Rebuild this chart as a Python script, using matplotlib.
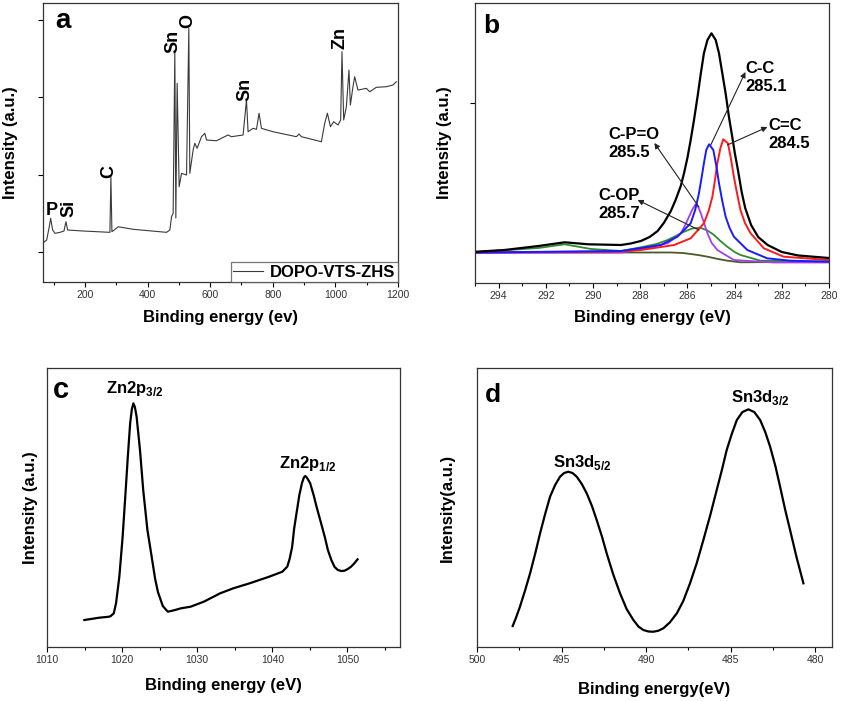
import matplotlib
matplotlib.use('Agg')
import matplotlib.pyplot as plt
from matplotlib.ticker import MultipleLocator

plt.rcParams['font.family'] = ['Liberation Sans', 'DejaVu Sans']
plt.rcParams['mathtext.fontset'] = 'custom'
plt.rcParams['mathtext.rm'] = 'Liberation Sans'
plt.rcParams['mathtext.bf'] = 'Liberation Sans:bold'

# ---- panel a: survey spectrum ----
a_energy = [66.9, 77.8, 86.1, 90.5, 96.9, 104.3, 120.2, 133.0, 139.4, 144.8, 194.6,
            279.8, 283.0, 286.2, 293.5, 306.3, 354.1, 460.7, 471.3, 476.7, 481.8,
            487.2, 490.4, 494.6, 501.0, 508.6, 524.6, 531.9, 535.1, 545.6, 551.1,
            558.4, 572.4, 583.0, 588.4, 620.3, 657.3, 668.2, 705.2, 716.1, 721.2,
            737.1, 748.0, 756.3, 763.9, 801.0, 875.6, 883.9, 891.6, 955.4, 966.0,
            974.6, 984.2, 994.7, 1008.4, 1017.0, 1021.2, 1026.6, 1035.2, 1043.5,
            1048.0, 1056.3, 1061.7, 1072.2, 1099.0, 1109.6, 1130.9, 1162.9, 1183.9,
            1194.8]
a_counts = [0.12, 0.155, 0.326, 0.435, 0.284, 0.241, 0.254, 0.271, 0.391, 0.284, 0.271,
            0.254, 0.972, 0.262, 0.284, 0.326, 0.293, 0.254, 0.284, 0.455, 0.499,
            2.594, 0.44, 2.177, 0.843, 1.015, 0.994, 2.886, 1.015, 1.316, 1.403,
            1.338, 1.488, 1.532, 1.445, 1.436, 1.51, 1.488, 1.51, 1.961, 1.552,
            1.596, 1.583, 1.79, 1.596, 1.552, 1.488, 1.523, 1.488, 1.423, 1.661,
            1.79, 1.617, 1.681, 1.639, 1.703, 2.585, 1.703, 1.875, 2.348,
            1.897, 2.133, 2.262, 2.09, 2.112, 2.068, 2.125, 2.133, 2.155,
            2.197]
a_peak_labels = ['P', 'Si', 'C', 'Sn', 'O', 'Sn', 'Zn']
a_peak_x = [94.7, 150.5, 276.6, 480.9, 528.0, 710.6, 1014.8]
a_peak_y = [0.53, 0.561, 1.045, 2.723, 2.983, 2.103, 2.768]

# ---- panel b: C1s fit ----
b_total_e = [294.93, 293.75, 292.31, 291.2, 290.2, 288.81, 288.4, 287.97, 287.6, 287.26,
             287.0, 286.7, 286.5, 286.28, 286.14, 286.0, 285.86, 285.72, 285.57, 285.43,
             285.3, 285.15, 284.98, 284.8, 284.66, 284.52, 284.38, 284.24, 284.1, 283.99,
             283.85, 283.7, 283.55, 283.3, 283.0, 282.6, 282.0, 281.3, 280.0]
b_total = [31.3, 33, 37, 40.7, 38.7, 38, 39.5, 42, 46, 52, 60, 72, 83, 97, 110, 125,
           143, 163, 186.3, 209.7, 229.7, 243, 249.7, 243, 229.7, 209.7, 189.7, 166.3,
           146.3, 130, 112, 91, 75, 58, 46, 38, 31, 27.5, 25]
b_cc_e = [294.93, 288.8, 287.12, 286.42, 285.86, 285.67, 285.51, 285.4, 285.3, 285.2,
          285.08, 284.9, 284.78, 284.66, 284.53, 284.38, 284.21, 284.03, 283.46, 282.62,
          281.64, 280.02]
b_cc = [30.5, 32, 38, 46.3, 59.7, 73, 89.7, 105, 119.7, 133, 138.7, 133, 118, 99.7, 83,
        66.3, 55, 46.3, 33, 24.7, 22.3, 21.3]
b_cdc_e = [294.93, 288.8, 287.97, 286.56, 285.86, 285.3, 285.1, 284.94, 284.83, 284.73,
           284.6, 284.48, 284.28, 284.16, 284.03, 283.89, 283.75, 283.56, 283.32, 282.76,
           281.92, 280.02]
b_cdc = [30.5, 31.5, 33, 38, 44.7, 59.7, 72, 86.3, 103, 119.7, 135, 143.7, 139.7, 125,
         106.3, 89, 73, 60, 49.7, 34.7, 26.3, 23]
b_cpo_e = [294.93, 288.81, 287.97, 286.84, 286.28, 286.09, 285.93, 285.78, 285.65,
           285.54, 285.43, 285.31, 285.15, 284.97, 284.73, 284.03, 282.34, 280.02]
b_cpo = [30, 30.5, 33.7, 39.7, 49.7, 58, 66.3, 74, 78.7, 76, 69.7, 61, 49.7, 40, 33, 23,
         20.5, 20.5]
b_cop_e = [294.93, 292.31, 291.2, 290.08, 288.81, 287.97, 287.3, 286.84, 286.5, 286.14,
           285.8, 285.46, 285.15, 284.87, 284.6, 284.31, 284.0, 283.75, 282.9, 280.02]
b_cop = [31, 35, 38.7, 34, 32, 35.7, 39, 43, 47, 51.3, 54.5, 55.3, 52.5, 48, 42, 36.3,
         31, 28, 22.3, 21.3]
b_bg_e = [294.93, 288.81, 286.7, 286.2, 285.86, 285.5, 285.15, 284.7, 284.31, 283.75,
          280.0]
b_bg = [30.7, 30.5, 30.5, 30, 29, 27.8, 26.3, 24, 22.3, 20.7, 21.3]
b_names = ['C-C\n285.1', 'C=C\n284.5', 'C-P=O\n285.5', 'C-OP\n285.7']
b_text_xy = [(283.54, 206), (282.57, 149), (289.36, 139.5), (289.78, 78)]
b_arrow_tail = [(285.01, 138), (284.31, 138), (285.51, 76), (285.51, 53)]
b_arrow_head = [(283.54, 211), (282.61, 156), (287.40, 140), (288.11, 83)]

# ---- panel c: Zn2p ----
c_energy = [1014.97, 1016.93, 1018.24, 1018.46, 1018.89, 1019.19, 1019.63, 1020.07,
            1020.42, 1020.76, 1021.07, 1021.3, 1021.5, 1021.7, 1021.93, 1022.38, 1022.81,
            1023.37, 1023.9, 1024.4, 1024.77, 1025.42, 1026.08, 1026.95, 1027.82,
            1029.12, 1030.87, 1033.05, 1034.8, 1036.97, 1039.58, 1041.33, 1041.99,
            1042.3, 1042.64, 1042.9, 1043.29, 1043.6, 1043.95, 1044.2, 1044.38, 1044.6,
            1045.03, 1045.5, 1045.9, 1046.45, 1046.99, 1047.4, 1047.86, 1048.3, 1048.73,
            1049.2, 1049.61, 1050.05, 1050.48, 1050.9, 1051.35]
c_counts = [27, 29.3, 30.3, 30.8, 33.7, 43.7, 70.3, 110.3, 150.3, 190.3, 223.7, 238,
            243.7, 240, 230.3, 197, 157, 117, 92, 68, 55, 41, 35.3, 36.8, 38.7, 40.3,
            45.3, 53.7, 58.7, 63.7, 70.3, 75.3, 80.3, 88, 100, 118, 137, 152, 164, 169.5,
            171, 169.5, 164, 152, 140, 125, 110, 97, 87, 80, 77, 76, 76.3, 78, 80.3, 83.5,
            87.7]

# ---- panel d: Sn3d ----
d_energy = [497.89, 497.7, 497.46, 497.15, 496.86, 496.55, 496.27, 495.97, 495.68, 495.38,
            495.09, 494.85, 494.6, 494.35, 494.1, 493.8, 493.51, 493.2, 492.92, 492.6,
            492.33, 491.95, 491.54, 491.15, 490.75, 490.45, 490.16, 489.85, 489.57,
            489.27, 488.98, 488.6, 488.18, 487.8, 487.4, 487.0, 486.61, 486.2, 485.82,
            485.5, 485.23, 484.93, 484.63, 484.3, 483.95, 483.6, 483.25, 482.95, 482.66,
            482.35, 482.07, 481.78, 481.48, 481.1, 480.69]
d_counts = [21, 29, 40.3, 57, 73.7, 94, 113.7, 133, 150.3, 162, 170.3, 174, 175.3, 174,
            170.3, 163, 153.7, 141, 127, 110, 93.7, 73, 53.7, 38, 27, 20.5, 17, 15.5,
            15.3, 16.3, 18.7, 24.5, 33.7, 46, 63.7, 84, 107, 132, 157, 178, 197, 213,
            227, 235, 237.7, 235, 227, 215, 200.3, 181, 160.3, 138, 117, 90, 63.7]

fig = plt.figure(figsize=(8.41, 7.01), dpi=100)
ax_a = fig.add_axes([0.0511, 0.5977, 0.4221, 0.398])
ax_b = fig.add_axes([0.5648, 0.5963, 0.4209, 0.3994])
ax_c = fig.add_axes([0.0559, 0.077, 0.4197, 0.398])
ax_d = fig.add_axes([0.5672, 0.077, 0.4221, 0.398])

lab = dict(fontsize=12, fontweight='bold')

def style(ax, major, minor):
    ax.xaxis.set_major_locator(MultipleLocator(major))
    ax.xaxis.set_minor_locator(MultipleLocator(minor))
    ax.tick_params(axis='both', which='both', direction='out', labelsize=7.5,
                   labelcolor='#333333', width=0.8)
    ax.tick_params(axis='both', which='major', length=3.5)
    ax.tick_params(axis='both', which='minor', length=2.5)
    ax.tick_params(axis='x', pad=2)
    for s in ax.spines.values():
        s.set_linewidth(0.9)
        s.set_color('#333333')

# a
ax_a.plot(a_energy, a_counts, color='#3a3a3a', lw=0.8, label='DOPO-VTS-ZHS')
ax_a.set_xlim(66, 1200)
ax_a.set_ylim(-0.387, 3.213)
style(ax_a, 200, 100)
ax_a.set_yticks([0, 1, 2, 3])
ax_a.set_yticklabels([])
for t, x, y in zip(a_peak_labels, a_peak_x, a_peak_y):
    rot = 0 if t == 'P' else 90
    ax_a.text(x, y, t, rotation=rot, ha='center', va='center', fontsize=13,
              fontweight='bold')
ax_a.text(0.034, 0.91, 'a', transform=ax_a.transAxes, fontsize=20, fontweight='bold')
leg = ax_a.legend(loc='lower right', borderaxespad=0, fancybox=False,
                  handlelength=1.8, prop={'weight': 'bold', 'size': 12},
                  borderpad=0.15, handletextpad=0.4)
leg.get_frame().set_edgecolor('#555555')
leg.get_frame().set_linewidth(0.9)
ax_a.set_xlabel('Binding energy (ev)', **lab)
ax_a.set_ylabel('Intensity (a.u.)', **lab)
ax_a.xaxis.set_label_coords(0.5, -0.1)
ax_a.yaxis.set_label_coords(-0.07, 0.5)

# b
ax_b.plot(b_bg_e, b_bg, color='#4a5a2a', lw=1.3)
ax_b.plot(b_cop_e, b_cop, color='#2e8b2e', lw=1.3)
ax_b.plot(b_cpo_e, b_cpo, color='#a040f0', lw=1.3)
ax_b.plot(b_cdc_e, b_cdc, color='#ff1a1a', lw=1.4)
ax_b.plot(b_cc_e, b_cc, color='#1a1aff', lw=1.4)
ax_b.plot(b_total_e, b_total, color='black', lw=1.6)
ax_b.set_xlim(295, 280)
ax_b.set_ylim(0, 280)
style(ax_b, 2, 1)
ax_b.set_yticks([180])
ax_b.set_yticklabels([])
for name, txy, tail, head in zip(b_names, b_text_xy, b_arrow_tail, b_arrow_head):
    ax_b.text(txy[0], txy[1], name, ha='left', va='center', fontsize=12,
              fontweight='bold', linespacing=1.25)
    ax_b.annotate('', xy=head, xytext=tail,
                  arrowprops=dict(arrowstyle='-|>', color='#222222', lw=0.8,
                                  mutation_scale=8, shrinkA=0, shrinkB=0))
ax_b.text(0.023, 0.893, 'b', transform=ax_b.transAxes, fontsize=19, fontweight='bold')
ax_b.set_xlabel('Binding energy (eV)', **lab)
ax_b.set_ylabel('Intensity (a.u.)', **lab)
ax_b.xaxis.set_label_coords(0.5, -0.096)
ax_b.yaxis.set_label_coords(-0.065, 0.5)

# c
ax_c.plot(c_energy, c_counts, color='black', lw=1.6)
ax_c.set_xlim(1010, 1057)
ax_c.set_ylim(0, 279)
style(ax_c, 10, 5)
ax_c.set_yticks([])
ax_c.text(1017.8, 254, r'Zn2p$_{\mathbf{3/2}}$', ha='left', va='baseline', fontsize=12,
          fontweight='bold')
ax_c.text(1040.85, 179, r'Zn2p$_{\mathbf{1/2}}$', ha='left', va='baseline', fontsize=12,
          fontweight='bold')
ax_c.text(0.017, 0.892, 'c', transform=ax_c.transAxes, fontsize=21, fontweight='bold')
ax_c.set_xlabel('Binding energy (eV)', **lab)
ax_c.set_ylabel('Intensity (a.u.)', **lab)
ax_c.xaxis.set_label_coords(0.5, -0.111)
ax_c.yaxis.set_label_coords(-0.0255, 0.5)

# d
ax_d.plot(d_energy, d_counts, color='black', lw=1.6)
ax_d.set_xlim(500, 479)
ax_d.set_ylim(0, 279)
style(ax_d, 5, 2.5)
ax_d.set_yticks([])
ax_d.text(495.52, 180.3, r'Sn3d$_{\mathbf{5/2}}$', ha='left', va='baseline', fontsize=12,
          fontweight='bold')
ax_d.text(484.99, 245.3, r'Sn3d$_{\mathbf{3/2}}$', ha='left', va='baseline', fontsize=12,
          fontweight='bold')
ax_d.text(0.023, 0.878, 'd', transform=ax_d.transAxes, fontsize=19, fontweight='bold')
ax_d.set_xlabel('Binding energy(eV)', **lab)
ax_d.set_ylabel('Intensity(a.u.)', **lab)
ax_d.xaxis.set_label_coords(0.5, -0.125)
ax_d.yaxis.set_label_coords(-0.062, 0.5)

fig.savefig('out.png', dpi=100)
